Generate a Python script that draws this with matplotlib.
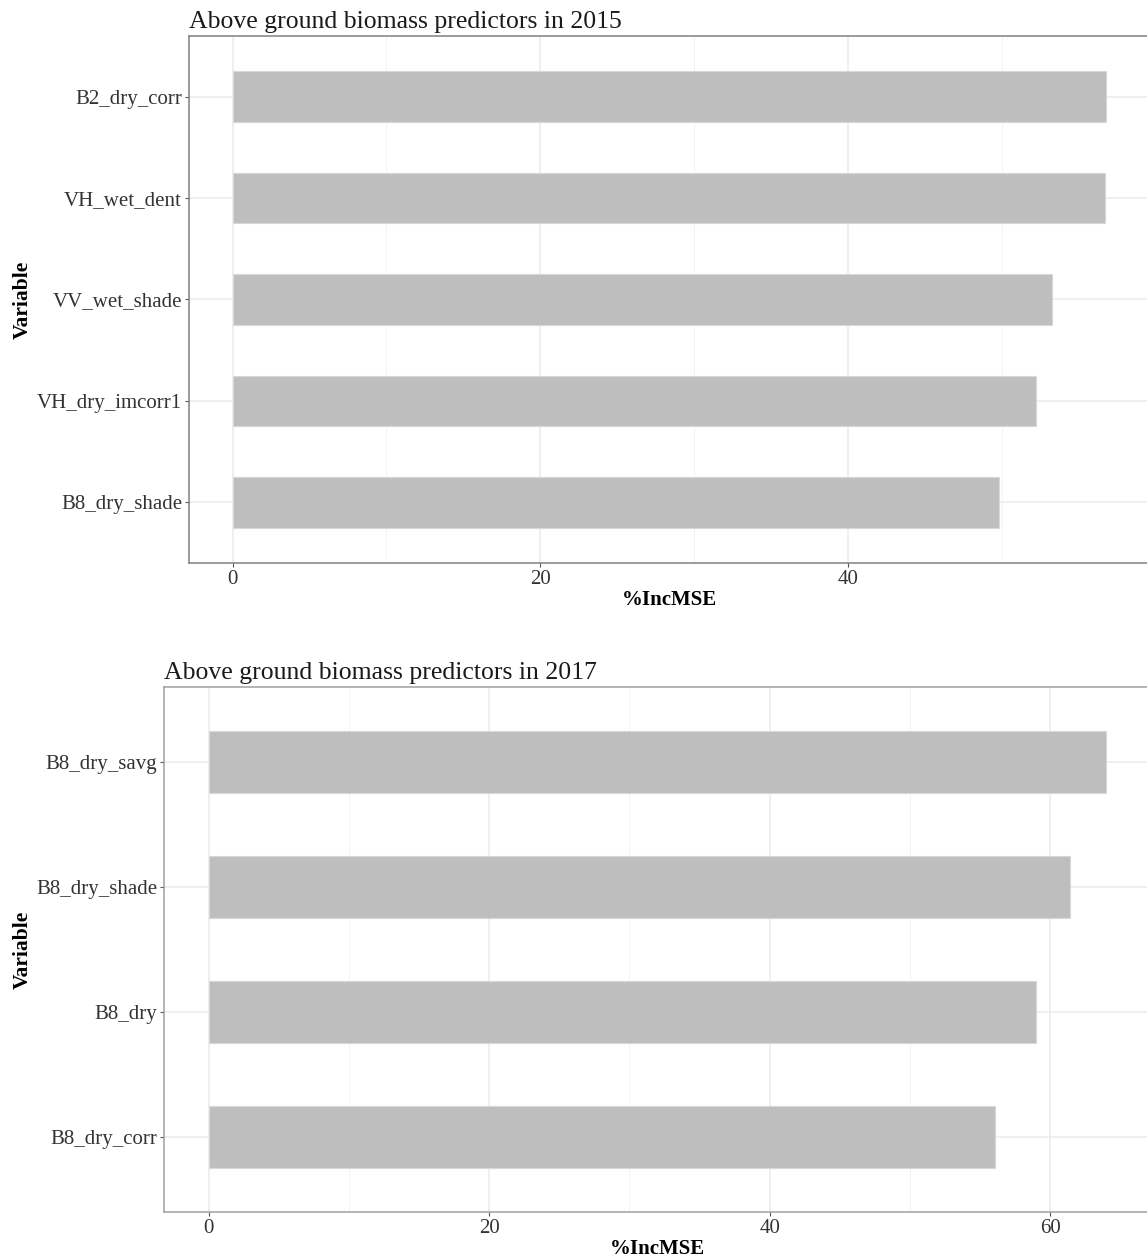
import matplotlib
matplotlib.use("Agg")
import matplotlib.pyplot as plt
from matplotlib.ticker import MultipleLocator

plt.rcParams["font.family"] = ["Liberation Serif", "DejaVu Serif"]

# Variable importance (%IncMSE), listed top to bottom
vars_2015 = ["B2_dry_corr", "VH_wet_dent", "VV_wet_shade", "VH_dry_imcorr1", "B8_dry_shade"]
inc_2015 = [56.8, 56.7, 53.3, 52.2, 49.8]

vars_2017 = ["B8_dry_savg", "B8_dry_shade", "B8_dry", "B8_dry_corr"]
inc_2017 = [64.0, 61.4, 59.0, 56.1]

titles = ["Above ground biomass predictors in 2015",
          "Above ground biomass predictors in 2017"]

W, H = 1147, 1258
fig = plt.figure(figsize=(W / 100, H / 100), dpi=100)
fig.patch.set_facecolor("white")


def px_axes(left, top, right, bottom):
    return fig.add_axes([left / W, 1 - bottom / H, (right - left) / W, (bottom - top) / H])


def panel(ax, names, vals, title, frame_col):
    n = len(names)
    ypos = list(range(n, 0, -1))
    ax.barh(ypos, vals, height=0.5, color="#bebebe", edgecolor="#d8d8d8",
            linewidth=0.8, zorder=3)
    vmax = max(vals)
    ax.set_xlim(-0.05 * vmax, vmax * 1.05)
    ax.set_ylim(0.4, n + 0.6)
    ax.set_yticks(ypos)
    ax.set_yticklabels(names)
    ax.xaxis.set_major_locator(MultipleLocator(20))
    ax.xaxis.set_minor_locator(MultipleLocator(10))
    ax.grid(True, which="major", color="#ebebeb", linewidth=1.1, zorder=0)
    ax.grid(True, which="minor", axis="x", color="#f3f3f3", linewidth=0.7, zorder=0)
    ax.set_axisbelow(True)
    for s in ax.spines.values():
        s.set_color(frame_col)
        s.set_linewidth(1.1)
    ax.tick_params(axis="both", which="major", labelsize=15, colors="#333333",
                   length=3, width=0.8, color="#555555", pad=2)
    ax.tick_params(axis="x", which="minor", length=0)
    ax.set_xlabel("%IncMSE", fontsize=15, fontweight="bold", labelpad=1)
    ax.set_ylabel("Variable", fontsize=15.5, fontweight="bold")
    ax.set_title(title, fontsize=18.5, loc="left", pad=6, color="#1a1a1a")


ax1 = px_axes(189, 36, 1150, 563)
panel(ax1, vars_2015, inc_2015, titles[0], "#808080")
ax1.yaxis.set_label_coords(-156 / (1150 - 189), 0.5)

ax2 = px_axes(164, 687, 1151, 1212)
panel(ax2, vars_2017, inc_2017, titles[1], "#a0a0a0")
ax2.yaxis.set_label_coords(-131 / (1151 - 164), 0.5)

fig.savefig("out.png", dpi=100, facecolor="white")
